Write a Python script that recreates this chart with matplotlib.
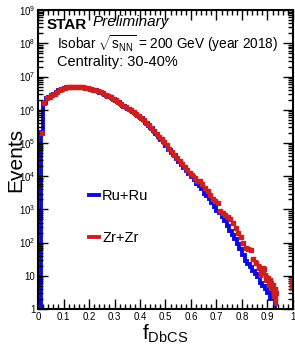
import numpy as np
import matplotlib.pyplot as plt
from matplotlib.ticker import FixedLocator, MultipleLocator, LogLocator, NullFormatter, FuncFormatter

plt.rcParams['font.family'] = ['Liberation Sans', 'DejaVu Sans']
plt.rcParams['mathtext.fontset'] = 'custom'
plt.rcParams['mathtext.rm'] = 'Liberation Sans'
plt.rcParams['mathtext.it'] = 'Liberation Sans:italic'

# bin edges of f_DbCS (100 bins, 0..1)
edges = np.linspace(0, 1, 101)

# Ru+Ru event counts per bin
ru_counts = [
    0, 2.2e5, 1.6e6, 2.3e6, 2.5e6, 2.75e6, 3.0e6, 3.4e6, 3.8e6, 4.2e6,
    4.6e6, 4.8e6, 4.9e6, 5.0e6, 4.9e6, 4.9e6, 4.8e6, 4.7e6, 4.6e6, 4.4e6,
    4.2e6, 4.0e6, 3.8e6, 3.55e6, 3.3e6, 3.1e6, 2.8e6, 2.5e6, 2.35e6, 2.1e6,
    1.86e6, 1.66e6, 1.45e6, 1.32e6, 1.17e6, 1.07e6, 9.5e5, 8.5e5, 7.4e5, 6.6e5,
    5.75e5, 4.8e5, 4.0e5, 3.3e5, 2.8e5, 2.25e5, 1.86e5, 1.5e5, 1.26e5, 1.05e5,
    8.3e4, 6.3e4, 5.0e4, 4.2e4, 3.4e4, 2.75e4, 2.2e4, 1.8e4, 1.45e4, 1.15e4,
    9.5e3, 7.6e3, 6.0e3, 5.0e3, 4.0e3, 3.0e3, 2.6e3, 2.1e3, 1.6e3, 1.2e3,
    890, 760, 600, 450, 320, 220, 165, 126, 89, 63,
    42, 28, 22, 18, 14, 11, 9, 6, 5, 4,
    3, 2, 2, 0, 0, 0, 0, 0, 0, 0,
]

# Zr+Zr event counts per bin
zr_counts = [
    0, 2.0e5, 1.6e6, 2.2e6, 2.5e6, 2.8e6, 3.0e6, 3.35e6, 3.8e6, 4.2e6,
    4.55e6, 4.8e6, 4.9e6, 4.95e6, 4.9e6, 4.85e6, 4.8e6, 4.7e6, 4.6e6, 4.4e6,
    4.2e6, 4.0e6, 3.8e6, 3.55e6, 3.35e6, 3.1e6, 2.8e6, 2.55e6, 2.35e6, 2.1e6,
    1.9e6, 1.68e6, 1.47e6, 1.33e6, 1.18e6, 1.08e6, 9.6e5, 8.6e5, 7.5e5, 6.7e5,
    5.8e5, 4.9e5, 4.1e5, 3.4e5, 2.85e5, 2.3e5, 1.9e5, 1.55e5, 1.3e5, 1.08e5,
    8.6e4, 6.6e4, 5.3e4, 4.4e4, 3.6e4, 2.9e4, 2.35e4, 1.95e4, 1.55e4, 1.25e4,
    1.05e4, 8.7e3, 7.2e3, 7.0e3, 6.0e3, 4.5e3, 3.5e3, 2.8e3, 2.1e3, 1.8e3,
    1.6e3, 890, 760, 660, 600, 520, 380, 280, 200, 150,
    100, 70, 65, 60, 32, 25, 18, 12, 16, 9,
    7, 6, 4, 3, 0, 0, 0, 0, 0, 6,
]

ru = np.array(ru_counts, dtype=float)
zr = np.array(zr_counts, dtype=float)
centers = 0.5 * (edges[:-1] + edges[1:])

fig = plt.figure(figsize=(2.95, 3.48), dpi=100)
ax = fig.add_axes([0.129, 0.112, 0.864, 0.859])

# blue histogram (zeros pushed below the axis so the step drops to the bottom)
ru_draw = np.where(ru > 0, ru, 0.3)
ax.stairs(ru_draw, edges, color='#0a0ae6', lw=2.8, baseline=None)

# red points with error bars
m = zr > 0
err = np.sqrt(zr[m])
ax.errorbar(centers[m], zr[m], yerr=err, fmt='s', ms=2.2, color='#cc2020',
            mfc='#cc2020', mec='#cc2020', elinewidth=3.2, capsize=0)
ax.plot(centers[m], zr[m], 's', ms=1.1, color='black', mew=0)

ax.set_yscale('log')
ax.set_xlim(0, 1)
ax.set_ylim(1, 1e9)

ax.xaxis.set_major_locator(MultipleLocator(0.1))
ax.xaxis.set_minor_locator(MultipleLocator(0.02))
ax.xaxis.set_major_formatter(FuncFormatter(lambda v, p: '%g' % round(v, 1)))
ax.yaxis.set_major_locator(FixedLocator([10.0 ** k for k in range(10)]))
ax.yaxis.set_minor_locator(LogLocator(base=10, subs=np.arange(2, 10), numticks=20))
ax.yaxis.set_minor_formatter(NullFormatter())


def ylab(v, p):
    k = int(round(np.log10(v)))
    if k == 0:
        return '1'
    if k == 1:
        return '10'
    return r'$10^{%d}$' % k


ax.yaxis.set_major_formatter(FuncFormatter(ylab))
ax.tick_params(which='both', direction='in', top=True, right=True, width=1.0,
               labelsize=7, pad=2)
ax.tick_params(which='major', length=7)
ax.tick_params(which='minor', length=3.5)
for s in ax.spines.values():
    s.set_linewidth(1.5)

ax.set_xlabel(r'f$_{\mathrm{DbCS}}$', fontsize=15, labelpad=1)
ax.set_ylabel('Events', fontsize=15)
ax.yaxis.set_label_coords(-0.05, 0.5)

ax.text(0.035, 0.95, 'STAR', transform=ax.transAxes, fontsize=11,
        fontweight='bold', va='center')
ax.text(0.215, 0.96, 'Preliminary', transform=ax.transAxes, fontsize=11,
        style='italic', va='center')
ax.text(0.075, 0.886, r'Isobar $\sqrt{\mathrm{s}_{\mathrm{NN}}}$ = 200 GeV (year 2018)',
        transform=ax.transAxes, fontsize=9.8, va='center')
ax.text(0.075, 0.826, 'Centrality: 30-40%', transform=ax.transAxes,
        fontsize=10.5, va='center')

h1, = ax.plot([], [], color='#0a0ae6', lw=2.8)
h2, = ax.plot([], [], color='#cc2020', lw=2.8)
ax.legend([h1, h2], ['Ru+Ru', 'Zr+Zr'], loc='upper left',
          bbox_to_anchor=(0.2, 0.4), frameon=False, fontsize=10.5,
          handlelength=0.7, handletextpad=0.2, labelspacing=1.9,
          borderpad=0, borderaxespad=0)

plt.savefig('out.png', dpi=100)
